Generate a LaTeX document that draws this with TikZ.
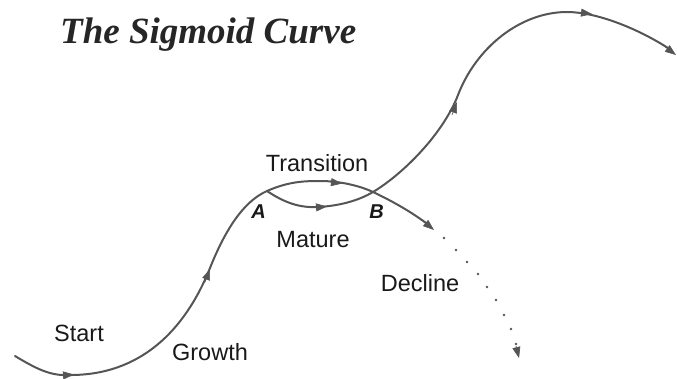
\documentclass[tikz,border=0pt]{standalone}
\usepackage{fontspec}
\setmainfont{Liberation Serif}
\setsansfont{Liberation Sans}
\usetikzlibrary{arrows.meta}
\definecolor{curvegray}{HTML}{555555}
\begin{document}
\begin{tikzpicture}[x=1pt,y=-1pt,
  curve/.style={draw=curvegray, line width=2pt, line cap=round},
  tipmark/.style={draw=curvegray, fill=curvegray, line width=0.6pt, -{Triangle[length=11pt,width=8pt]}},
  lab/.style={font=\sffamily\fontsize{23.5}{26}\selectfont, text=black!90, inner sep=0pt, anchor=base},
  ptlab/.style={font=\sffamily\bfseries\itshape\fontsize{20}{22}\selectfont, text=black!90, inner sep=0pt, anchor=base},
  dotmark/.style={fill=curvegray}]
\useasboundingbox (0,0) rectangle (677,378);

% title
\node[anchor=base west, inner sep=0pt, font=\fontsize{37}{40}\selectfont\bfseries\itshape, text=black!85] (title) at (60,43) {The Sigmoid Curve};

% key points
\coordinate (S0) at (15,356);
\coordinate (P1) at (68,375);
\coordinate (I1) at (210,268);
\coordinate (A) at (267,191);
\coordinate (T) at (320,181);
\coordinate (M) at (318,207);
\coordinate (B) at (373,192);
\coordinate (D) at (426,223);
\coordinate (I2) at (458,95);
\coordinate (Pk) at (567,12);
\coordinate (E) at (668,48);

% first curve: start -> growth -> A -> transition -> B -> decline
\draw[curve] (S0) .. controls (35,368) and (50,376) .. (P1)
  .. controls (140,376) and (185,330.5) .. (I1)
  .. controls (224,233) and (242,202) .. (A)
  .. controls (289,181.3) and (305,181) .. (T)
  .. controls (338,181) and (358,185) .. (B)
  .. controls (390,200) and (410,211) .. (D);
% second branch: A -> mature -> B -> second curve
\draw[curve] (A) .. controls (285,203) and (300,208) .. (M)
  .. controls (338,206) and (358,201) .. (B)
  .. controls (403,174) and (443,134) .. (I2)
  .. controls (476,48) and (520,12) .. (Pk)
  .. controls (595,12) and (635,27) .. (E);

% arrowheads
\draw[tipmark] (62,375.5) -- (74,374.5);
\draw[tipmark] (205,282) -- (210,269);
\draw[tipmark] (330,182) -- (342,183.5);
\draw[tipmark] (422,220) -- (434,230);
\draw[tipmark] (315,207.5) -- (327,206.5);
\draw[tipmark] (452,115) -- (457,102);
\draw[tipmark] (580,12.5) -- (592,14);
\draw[tipmark] (664,46) -- (676,55);

% dotted decline
\foreach \p in {(444,238),(456,250),(467,262),(478,274),(487,287),(496,300),(504,315),(511,329),(516,344)}
  \fill[dotmark] \p circle (1.3pt);
\draw[tipmark] (516,346) -- (519,358);

% labels
\node[lab] (start) at (79,341) {Start};
\node[lab] (growth) at (210,360) {Growth};
\node[lab] (transition) at (317,171) {Transition};
\node[lab] (mature) at (313,247) {Mature};
\node[lab] (decline) at (420,291) {Decline};
\node[ptlab] (labA) at (258.5,218) {A};
\node[ptlab] (labB) at (376.5,218) {B};
\end{tikzpicture}
\end{document}
